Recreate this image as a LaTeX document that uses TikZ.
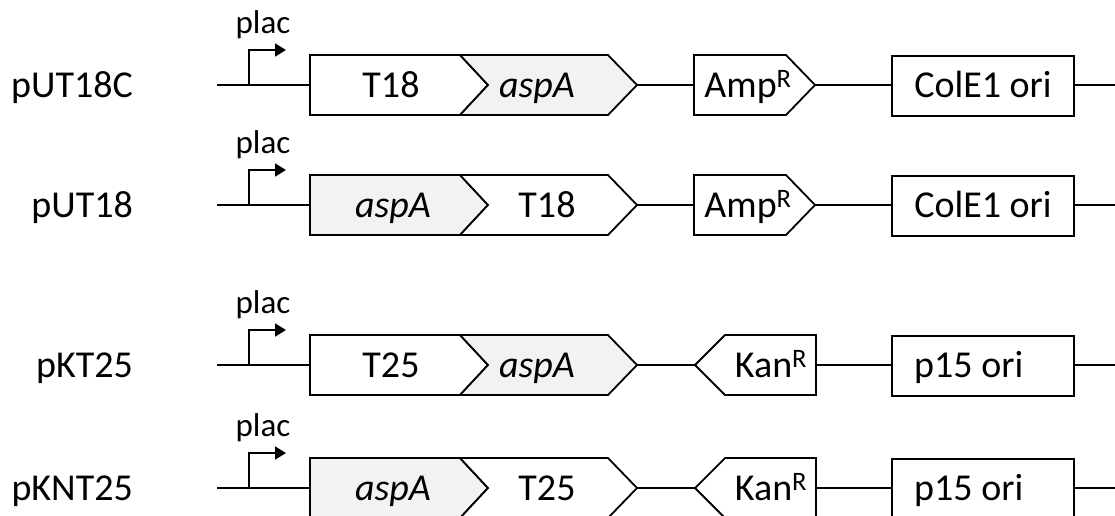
\documentclass[tikz,border=0pt]{standalone}
\usepackage{fontspec}
\setmainfont{Carlito}
\usetikzlibrary{arrows.meta}
\definecolor{genefill}{HTML}{F2F2F2}
\tikzset{
  part/.style={draw=black, line width=1.8pt, line join=miter},
  wire/.style={line width=1.8pt},
  txt/.style={font=\fontsize{38}{42}\selectfont, anchor=base, inner sep=0pt},
  pname/.style={font=\fontsize{38}{42}\selectfont, anchor=base east, inner sep=0pt},
  prom/.style={font=\fontsize{33}{36}\selectfont, anchor=base, inner sep=0pt},
  promarrow/.style={line width=1.8pt, -{Triangle[length=11pt,width=13pt]}},
}
% gene / marker / origin outlines, drawn relative to the backbone (y = 0)
\newcommand\fwdfirst[1]{\filldraw[part, fill=#1] (310,-30) -- (460,-30) -- (488,0) -- (460,30) -- (310,30) -- cycle;}
\newcommand\fwdsecond[1]{\filldraw[part, fill=#1] (460,-30) -- (608,-30) -- (637,0) -- (608,30) -- (460,30) -- (488,0) -- cycle;}
\newcommand\ampbox{\filldraw[part, fill=white] (694,-30) -- (786,-30) -- (815,0) -- (786,30) -- (694,30) -- cycle;}
\newcommand\kanbox{\filldraw[part, fill=white] (695,0) -- (725,-30) -- (816,-30) -- (816,30) -- (725,30) -- cycle;}
\newcommand\oribox{\filldraw[part, fill=white] (892,-29) rectangle (1074,31);}
\newcommand\promoter[1]{%
  \coordinate (#1p) at (249,0);
  \coordinate (#1pk) at (249,-35);
  \coordinate (#1pt) at (286,-35);
  \draw[promarrow] (#1p) -- (#1pk) -- (#1pt);
  \node[prom] (#1plac) at (263,-52) {plac};}
\begin{document}
\begin{tikzpicture}[x=1pt,y=-1pt]
\useasboundingbox (0,0) rectangle (1115,515);
\clip (0,0) rectangle (1115,515);

% ---- pUT18C ----
\begin{scope}[shift={(0,85)}]
  \coordinate (aL) at (217,0); \coordinate (aA) at (310,0); \coordinate (aB) at (637,0);
  \coordinate (aC) at (694,0); \coordinate (aD) at (815,0); \coordinate (aE) at (892,0);
  \coordinate (aF) at (1074,0); \coordinate (aR) at (1115,0);
  \draw[wire] (aL) -- (aA) (aB) -- (aC) (aD) -- (aE) (aF) -- (aR);
  \fwdfirst{white} \fwdsecond{genefill} \ampbox \oribox
  \promoter{a}
  \node[pname] (aname) at (133,12) {pUT18C};
  \node[txt] (a1) at (391,12) {T18};
  \node[txt] (a2) at (537,12) {\textit{aspA}};
  \node[txt] (a3) at (748,12) {Amp\textsuperscript{R}};
  \node[txt] (a4) at (983,12) {ColE1 ori};
\end{scope}

% ---- pUT18 ----
\begin{scope}[shift={(0,205)}]
  \coordinate (bL) at (217,0); \coordinate (bA) at (310,0); \coordinate (bB) at (637,0);
  \coordinate (bC) at (694,0); \coordinate (bD) at (815,0); \coordinate (bE) at (892,0);
  \coordinate (bF) at (1074,0); \coordinate (bR) at (1115,0);
  \draw[wire] (bL) -- (bA) (bB) -- (bC) (bD) -- (bE) (bF) -- (bR);
  \fwdfirst{genefill} \fwdsecond{white} \ampbox \oribox
  \promoter{b}
  \node[pname] (bname) at (133,12) {pUT18};
  \node[txt] (b1) at (393,12) {\textit{aspA}};
  \node[txt] (b2) at (547,12) {T18};
  \node[txt] (b3) at (748,12) {Amp\textsuperscript{R}};
  \node[txt] (b4) at (983,12) {ColE1 ori};
\end{scope}

% ---- pKT25 ----
\begin{scope}[shift={(0,365)}]
  \coordinate (cL) at (217,0); \coordinate (cA) at (310,0); \coordinate (cB) at (637,0);
  \coordinate (cC) at (695,0); \coordinate (cD) at (816,0); \coordinate (cE) at (892,0);
  \coordinate (cF) at (1074,0); \coordinate (cR) at (1115,0);
  \draw[wire] (cL) -- (cA) (cB) -- (cC) (cD) -- (cE) (cF) -- (cR);
  \fwdfirst{white} \fwdsecond{genefill} \kanbox \oribox
  \promoter{c}
  \node[pname] (cname) at (133,12) {pKT25};
  \node[txt] (c1) at (391,12) {T25};
  \node[txt] (c2) at (537,12) {\textit{aspA}};
  \node[txt] (c3) at (771,12) {Kan\textsuperscript{R}};
  \node[txt, anchor=base west] (c4) at (914,12) {p15 ori};
\end{scope}

% ---- pKNT25 ----
\begin{scope}[shift={(0,488)}]
  \coordinate (dL) at (217,0); \coordinate (dA) at (310,0); \coordinate (dB) at (637,0);
  \coordinate (dC) at (695,0); \coordinate (dD) at (816,0); \coordinate (dE) at (892,0);
  \coordinate (dF) at (1074,0); \coordinate (dR) at (1115,0);
  \draw[wire] (dL) -- (dA) (dB) -- (dC) (dD) -- (dE) (dF) -- (dR);
  \fwdfirst{genefill} \fwdsecond{white} \kanbox \oribox
  \promoter{d}
  \node[pname] (dname) at (133,12) {pKNT25};
  \node[txt] (d1) at (393,12) {\textit{aspA}};
  \node[txt] (d2) at (547,12) {T25};
  \node[txt] (d3) at (771,12) {Kan\textsuperscript{R}};
  \node[txt, anchor=base west] (d4) at (914,12) {p15 ori};
\end{scope}
\end{tikzpicture}
\end{document}
